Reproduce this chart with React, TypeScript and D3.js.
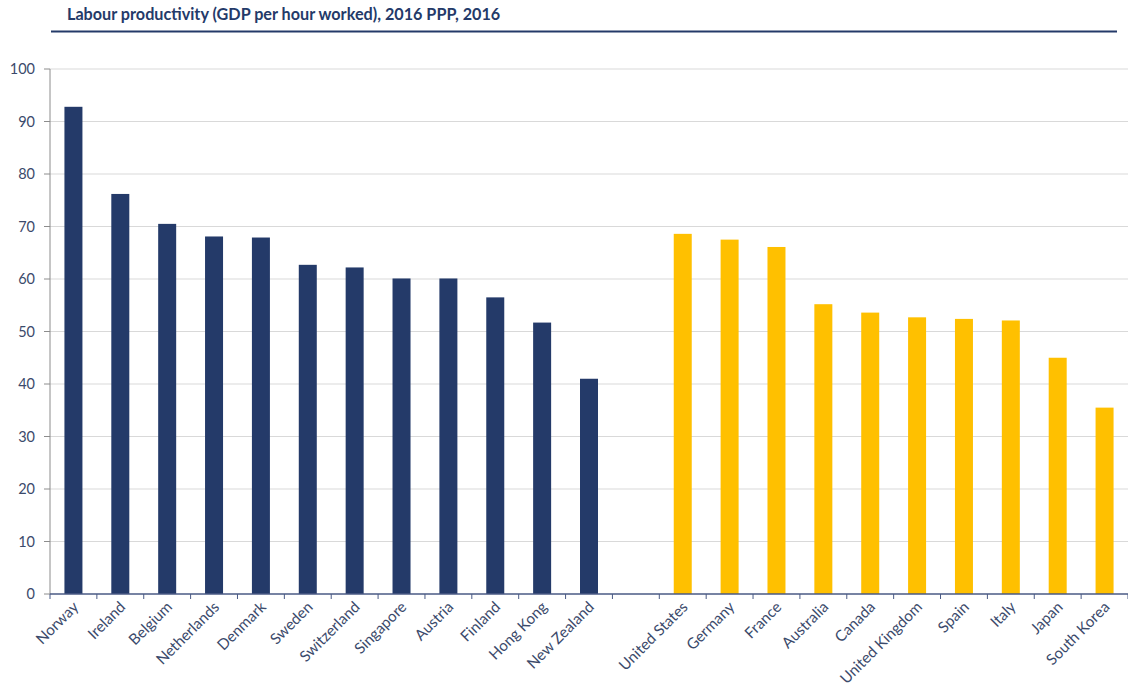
import React from "react";
import * as d3 from "d3";

const categories = [
  "Norway", "Ireland", "Belgium", "Netherlands", "Denmark", "Sweden", "Switzerland",
  "Singapore", "Austria", "Finland", "Hong Kong", "New Zealand", "",
  "United States", "Germany", "France", "Australia", "Canada", "United Kingdom",
  "Spain", "Italy", "Japan", "South Korea",
];
const groupA = ["Norway", "Ireland", "Belgium", "Netherlands", "Denmark", "Sweden", "Switzerland",
  "Singapore", "Austria", "Finland", "Hong Kong", "New Zealand"];
const valuesA = [92.8, 76.2, 70.5, 68.1, 67.9, 62.7, 62.2, 60.1, 60.1, 56.5, 51.7, 41.0];
const groupB = ["United States", "Germany", "France", "Australia", "Canada", "United Kingdom",
  "Spain", "Italy", "Japan", "South Korea"];
const valuesB = [68.6, 67.5, 66.1, 55.2, 53.6, 52.7, 52.4, 52.1, 45.0, 35.5];
const yTicks = [0, 10, 20, 30, 40, 50, 60, 70, 80, 90, 100];
const title = "Labour productivity (GDP per hour worked), 2016 PPP, 2016";

const W = 1128, H = 694;
const FONT = "Lato, 'Open Sans', sans-serif";
const TEXT = "#3b4a6b";
const NAVY = "#243a69";
const YELLOW = "#ffc000";

export default function App() {
  const keys = categories.map((c, i) => c || "gap" + i);
  const x = d3.scaleBand<string>().domain(keys).range([50, 1128]).padding(0);
  const y = d3.scaleLinear().domain([0, 100]).range([594, 69]);
  const bw = 18;
  const bars = [
    ...groupA.map((c, i) => ({ c, v: valuesA[i], color: NAVY })),
    ...groupB.map((c, i) => ({ c, v: valuesB[i], color: YELLOW })),
  ];
  return (
    <svg width={W} height={H} style={{ position: "absolute", left: 0, top: 0, background: "#fff" }} fontFamily={FONT}>
      <text x={67} y={20} fontSize={16.2} fontWeight="bold" fill={NAVY}>{title}</text>
      <line x1={51} x2={1117} y1={31.5} y2={31.5} stroke={NAVY} strokeWidth={2} />
      {yTicks.map((t) => (
        <g key={t}>
          {t > 0 && <line x1={50} x2={1128} y1={y(t)} y2={y(t)} stroke="#d9d9d9" strokeWidth={1} />}
          <line x1={44} x2={50} y1={y(t)} y2={y(t)} stroke="#8c8c8c" />
          <text x={35} y={y(t)} dy="0.35em" textAnchor="end" fontSize={14.5} fill={TEXT}>{t}</text>
        </g>
      ))}
      <line x1={50} x2={50} y1={y(100)} y2={y(0)} stroke="#8c8c8c" />
      {bars.map((b) => (
        <rect key={b.c} x={(x(b.c) as number) + x.bandwidth() / 2 - bw / 2} y={y(b.v)} width={bw}
          height={y(0) - y(b.v)} fill={b.color} />
      ))}
      <line x1={50} x2={1128} y1={y(0)} y2={y(0)} stroke="#4a5a85" strokeWidth={1.5} />
      {d3.range(keys.length + 1).map((i) => {
        const xx = 50 + i * x.bandwidth();
        return <line key={i} x1={xx} x2={xx} y1={y(0)} y2={y(0) + 5} stroke="#4a5a85" />;
      })}
      {categories.map((c, i) => c && (
        <text key={c} transform={`translate(${(x(keys[i]) as number) + x.bandwidth() / 2 + 6},${608}) rotate(-45)`}
          textAnchor="end" fontSize={15.2} fill={TEXT}>{c}</text>
      ))}
    </svg>
  );
}
